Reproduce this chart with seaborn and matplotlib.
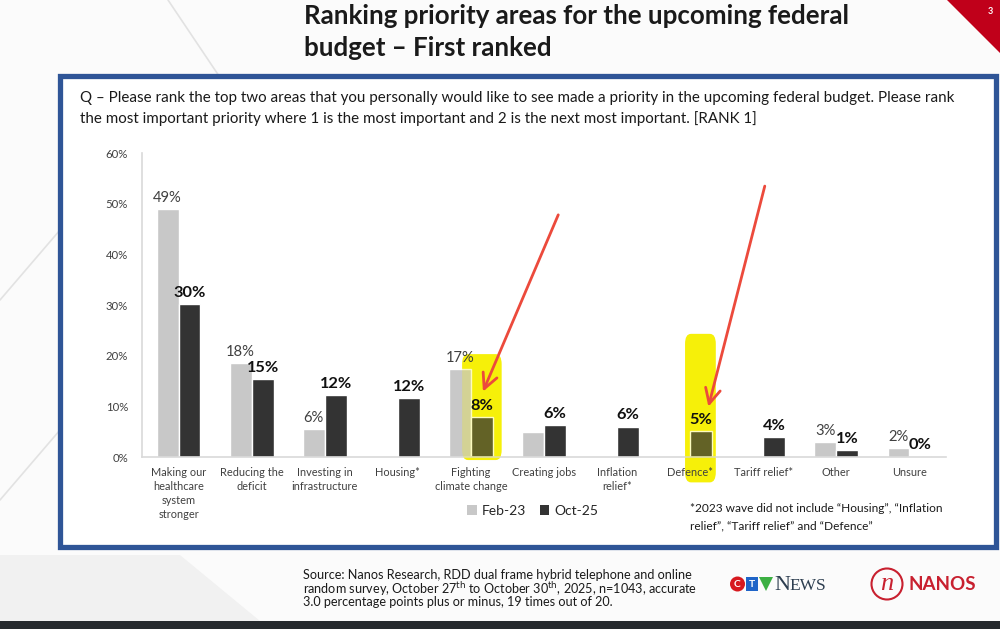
import numpy as np
import pandas as pd
import matplotlib
matplotlib.use("Agg")
import matplotlib.pyplot as plt
import seaborn as sns
from matplotlib.patches import Rectangle, Polygon, FancyBboxPatch, Circle, Patch

# ---------------- data ----------------
categories = ["Making our\nhealthcare\nsystem\nstronger", "Reducing the\ndeficit",
              "Investing in\ninfrastructure", "Housing*", "Fighting\nclimate change",
              "Creating jobs", "Inflation\nrelief*", "Defence*", "Tariff relief*",
              "Other", "Unsure"]
waves = ["Feb-23", "Oct-25"]
feb23 = [48.9, 18.5, 5.5, np.nan, 17.3, 5.0, np.nan, np.nan, np.nan, 3.0, 1.8]
oct25 = [30.1, 15.3, 12.2, 11.6, 7.9, 6.3, 6.0, 5.1, 3.9, 1.4, 0.2]
feb23_labels = ["49%", "18%", "6%", "", "17%", "", "", "", "", "3%", "2%"]
oct25_labels = ["30%", "15%", "12%", "12%", "8%", "6%", "6%", "5%", "4%", "1%", "0%"]
yticks = [0, 10, 20, 30, 40, 50, 60]
ytick_labels = ["0%", "10%", "20%", "30%", "40%", "50%", "60%"]
highlighted = ["Fighting\nclimate change", "Defence*"]

df = pd.DataFrame({
    "category": categories * 2,
    "wave": [waves[0]] * len(categories) + [waves[1]] * len(categories),
    "value": feb23 + oct25,
})

FONT = ["Lato", "DejaVu Sans"]
SERIF = ["Liberation Serif", "DejaVu Serif"]
sns.set_theme(style="white")
plt.rcParams["font.family"] = FONT

W, H = 1000, 629
fig = plt.figure(figsize=(W / 100, H / 100), dpi=100)
fig.patch.set_facecolor("#fbfbfb")

# background / frame axes in pixel coordinates
bg = fig.add_axes([0, 0, 1, 1], zorder=0)
bg.set_xlim(0, W)
bg.set_ylim(H, 0)
bg.axis("off")

# faint background decoration (calendar photo)
for (x0, y0, x1, y1) in [(168, 0, 262, 140), (0, 300, 60, 230), (0, 500, 60, 430),
                         (30, 560, 200, 620)]:
    bg.plot([x0, x1], [y0, y1], color="#e2e2e2", lw=1.2, zorder=0)
bg.add_patch(Polygon([(0, 555), (180, 555), (260, 621), (0, 621)], closed=True,
                     facecolor="#f1f1f1", edgecolor="none", zorder=0))

# red corner triangle
bg.add_patch(Polygon([(947, 0), (1000, 0), (1000, 53)], closed=True,
                     facecolor="#c0001a", edgecolor="none", zorder=1))
bg.text(990, 12, "3", color="white", fontsize=6.5, fontweight="bold",
        ha="center", va="center", zorder=2)

# title
bg.text(304, 16, "Ranking priority areas for the upcoming federal", fontsize=18.6,
        fontweight="bold", color="#1a1a1a", ha="left", va="center")
bg.text(304, 48, "budget \u2013 First ranked", fontsize=18.6,
        fontweight="bold", color="#1a1a1a", ha="left", va="center")

# blue framed box
bg.add_patch(Rectangle((60, 76), 936, 471, facecolor="white", edgecolor="#2f5597",
                       lw=3.8, zorder=1))

# question text
bg.text(80, 98, "Q \u2013 Please rank the top two areas that you personally would like to see made a "
        "priority in the upcoming federal budget. Please rank", fontsize=10.9,
        color="#1a1a1a", ha="left", va="center", zorder=3)
bg.text(80, 119, "the most important priority where 1 is the most important and 2 is the next "
        "most important. [RANK 1]", fontsize=10.9, color="#1a1a1a", ha="left",
        va="center", zorder=3)

# footnote
bg.text(690, 509, "*2023 wave did not include \u201cHousing\u201d, \u201cInflation", fontsize=8.6,
        color="#1a1a1a", ha="left", va="center", zorder=3)
bg.text(690, 526, "relief\u201d, \u201cTariff relief\u201d and \u201cDefence\u201d", fontsize=8.6,
        color="#1a1a1a", ha="left", va="center", zorder=3)

# source
src = ["Source: Nanos Research, RDD dual frame hybrid telephone and online",
       "random survey, October 27$^{\\mathrm{th}}$ to October 30$^{\\mathrm{th}}$, 2025, n=1043, accurate",
       "3.0 percentage points plus or minus, 19 times out of 20."]
for i, s in enumerate(src):
    bg.text(303, 575 + i * 13.6, s, fontsize=9.1, color="#1a1a1a", ha="left", va="center")

# CTV News logo
bg.add_patch(Circle((737.5, 584), 7.5, facecolor="#d7191f", edgecolor="none"))
bg.text(737.5, 584.5, "C", color="white", fontsize=7.5, fontweight="bold", ha="center", va="center")
bg.add_patch(Rectangle((746, 577), 12, 14, facecolor="#1f64c8", edgecolor="none"))
bg.text(752, 584.5, "T", color="white", fontsize=7.5, fontweight="bold", ha="center", va="center")
bg.add_patch(Polygon([(759, 577), (773, 577), (766, 591)], closed=True,
                     facecolor="#3cb043", edgecolor="none"))
bg.text(774, 585, "N", color="#2d3e50", fontsize=16, family=SERIF, ha="left", va="center")
bg.text(789, 586.5, "EWS", color="#2d3e50", fontsize=12.5, family=SERIF, ha="left", va="center")
# NANOS logo
bg.add_patch(Circle((887, 584), 15.5, facecolor="none", edgecolor="#c8202f", lw=1.5))
bg.text(887, 584, "n", color="#c8202f", fontsize=19, style="italic",
        family=SERIF, ha="center", va="center")
bg.text(909, 584, "NANOS", color="#c8202f", fontsize=13.5, fontweight="bold",
        ha="left", va="center")

# bottom dark strip
bg.add_patch(Rectangle((0, 621), W, 8, facecolor="#262a2e", edgecolor="none", zorder=5))

# ---------------- chart ----------------
ax = fig.add_axes([142 / W, 1 - 457 / H, (946 - 142) / W, (457 - 153) / H], zorder=2)
ax.patch.set_alpha(0)
palette = {waves[0]: "#c8c8c8", waves[1]: "#333333"}
sns.barplot(data=df, x="category", y="value", hue="wave", hue_order=waves,
            order=categories, palette=palette, width=0.6, gap=0, saturation=1,
            legend=False, ax=ax, zorder=2)

ax.set_xlim(-0.5, len(categories) - 0.5)
ax.set_ylim(0, 60)
ax.set_yticks(yticks)
ax.set_yticklabels(ytick_labels)
ax.set_xlabel("")
ax.set_ylabel("")
ax.set_axisbelow(False)
ax.xaxis.set_zorder(6)
ax.yaxis.set_zorder(6)
ax.tick_params(axis="both", length=0, labelsize=7.9, colors="#404040")
ax.tick_params(axis="y", pad=10, labelsize=8.2)
ax.tick_params(axis="x", pad=7)
for lab in ax.get_xticklabels():
    lab.set_linespacing(1.35)
for s in ["top", "right"]:
    ax.spines[s].set_visible(False)
for s in ["left", "bottom"]:
    ax.spines[s].set_color("#d9d9d9")
    ax.spines[s].set_linewidth(1.2)
    ax.spines[s].set_zorder(2.5)

# value labels positioned from the drawn bars
oct_bars = {}
for cont, wave in zip(ax.containers, waves):
    for p in cont.patches:
        h = p.get_height()
        if np.isnan(h):
            continue
        cx = p.get_x() + p.get_width() / 2
        idx = int(round(cx))
        if wave == waves[1]:
            oct_bars[idx] = p
        label = (feb23_labels if wave == waves[0] else oct25_labels)[idx]
        if not label:
            continue
        if wave == waves[0]:
            ax.annotate(label, (cx, h), xytext=(0, 3), textcoords="offset points",
                        ha="center", va="bottom", fontsize=10.6, color="#404040", zorder=7)
        else:
            ax.annotate(label, (cx, h), xytext=(0, 3), textcoords="offset points",
                        ha="center", va="bottom", fontsize=11.8, fontweight="bold",
                        color="#111111", zorder=7)

# yellow highlighter marks
yellow = "#f6f000"
hl_specs = {highlighted[0]: (-0.12, 0.12, -0.6, 20.3), highlighted[1]: (-0.07, 0.05, -5.0, 24.3)}
for name in highlighted:
    i = categories.index(name)
    p = oct_bars[i]
    l_off, r_off, y0, y1 = hl_specs[name]
    x0 = p.get_x() + l_off
    x1 = p.get_x() + p.get_width() + r_off
    for z, a in [(1, 0.95), (5, 0.25)]:
        ax.add_patch(FancyBboxPatch((x0, y0), x1 - x0, y1 - y0,
                                    boxstyle="round,pad=0,rounding_size=0.08",
                                    mutation_aspect=25, facecolor=yellow, edgecolor="none",
                                    alpha=a, zorder=z, clip_on=False))

# red hand-drawn arrows
arrow_specs = {highlighted[0]: ((0.0, 12.4), (1.06, 48.3)), highlighted[1]: ((0.09, 9.4), (0.88, 54.0))}
for name in highlighted:
    i = categories.index(name)
    p = oct_bars[i]
    cx = p.get_x() + p.get_width() / 2
    (tdx, ty), (sdx, sy) = arrow_specs[name]
    ax.annotate("", xy=(cx + tdx, ty), xytext=(cx + sdx, sy),
                arrowprops=dict(arrowstyle="->,head_length=0.9,head_width=0.45",
                                color="#ec4a3c", lw=2.0),
                annotation_clip=False, zorder=8)

# legend
handles = [Patch(facecolor=palette[w], edgecolor="none", label=w) for w in waves]
fig.legend(handles=handles, loc="center left", bbox_to_anchor=(460 / W, 1 - 511 / H),
           ncol=2, frameon=False, fontsize=10, handlelength=0.7, handleheight=0.7,
           handletextpad=0.35, columnspacing=1.0, borderpad=0)

fig.savefig("out.png", dpi=100, facecolor=fig.get_facecolor())
